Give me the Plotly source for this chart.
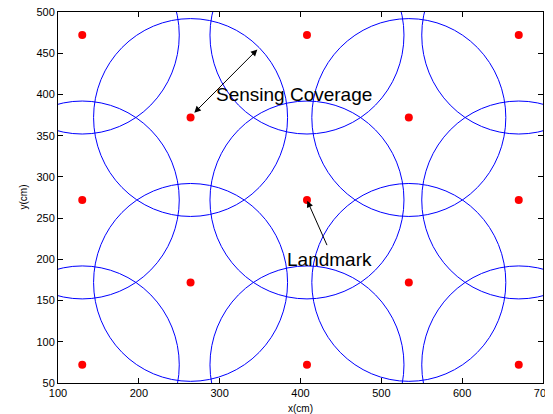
import plotly.graph_objects as go

# Landmark positions (cm)
landmark_x = [130, 408, 670, 264, 534, 130, 408, 670, 264, 534, 130, 408, 670]
landmark_y = [472, 472, 472, 372, 372, 272, 272, 272, 172, 172, 72, 72, 72]
sensing_radius = 120

x_ticks = [100, 200, 300, 400, 500, 600, 700]
y_ticks = [50, 100, 150, 200, 250, 300, 350, 400, 450, 500]

FONT = "Arial, Liberation Sans, Helvetica, sans-serif"

fig = go.Figure()

shapes = []
for cx, cy in zip(landmark_x, landmark_y):
    shapes.append(dict(
        type="circle", xref="x", yref="y",
        x0=cx - sensing_radius, x1=cx + sensing_radius,
        y0=cy - sensing_radius, y1=cy + sensing_radius,
        line=dict(color="#0000ff", width=1), layer="above",
    ))

fig.add_trace(go.Scatter(
    x=landmark_x, y=landmark_y, mode="markers",
    marker=dict(color="#ff0000", size=8, line=dict(width=0)),
    showlegend=False, hoverinfo="skip", cliponaxis=False,
))

annotations = [
    # double arrow showing sensing coverage
    dict(x=346.6, y=454.5, ax=266.8, ay=376, xref="x", yref="y", axref="x", ayref="y",
         text="", showarrow=True, arrowhead=2, startarrowhead=2, arrowside="end+start",
         arrowsize=1.3, startarrowsize=1.3, arrowwidth=1, arrowcolor="black", standoff=0, startstandoff=0),
    dict(x=392, y=399.7, xref="x", yref="y", text="Sensing Coverage", showarrow=False,
         font=dict(family=FONT, size=19, color="black")),
    # landmark arrow
    dict(x=408.4, y=271, ax=433.6, ay=215.4, xref="x", yref="y", axref="x", ayref="y",
         text="", showarrow=True, arrowhead=2, arrowsize=1.3, arrowwidth=1,
         arrowcolor="black", standoff=0),
    dict(x=436, y=200.2, xref="x", yref="y", text="Landmark", showarrow=False,
         font=dict(family=FONT, size=19, color="black")),
    # axis titles
    dict(x=0.5, y=0, xref="paper", yref="paper", text="x(cm)", showarrow=False,
         xanchor="center", yanchor="middle", yshift=-25,
         font=dict(family=FONT, size=10, color="black")),
    dict(x=0, y=0.5, xref="paper", yref="paper", text="y(cm)", showarrow=False,
         xanchor="center", yanchor="middle", xshift=-35, textangle=-90,
         font=dict(family=FONT, size=10, color="black")),
]

axis_common = dict(
    showline=True, linecolor="black", linewidth=1, mirror="ticks",
    ticks="inside", ticklen=5, tickwidth=1, tickcolor="black",
    showgrid=False, zeroline=False, automargin=False,
    ticklabeloverflow="allow",
    tickfont=dict(family=FONT, size=11, color="black"),
)

fig.update_xaxes(range=[100, 700], tickvals=x_ticks, **axis_common)
fig.update_yaxes(range=[50, 500], tickvals=y_ticks, **axis_common)

# page body adds an 8px offset, so the figure is sized to fit the window
fig.update_layout(
    width=545, height=406,
    margin=dict(l=50, r=10, t=4, b=31, autoexpand=False),
    plot_bgcolor="white", paper_bgcolor="white",
    shapes=shapes, annotations=annotations,
    showlegend=False,
)

fig.write_html("out.html")
